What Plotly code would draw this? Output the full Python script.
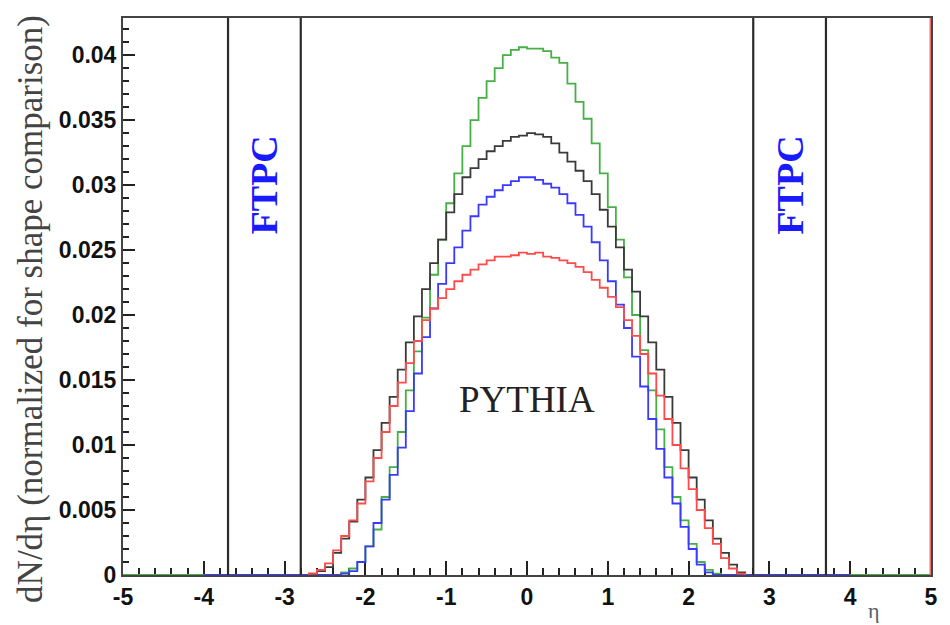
import numpy as np
import plotly.graph_objects as go

# ---- data -------------------------------------------------------------
ETA_MIN = -2.7          # low edge of first listed bin
BIN_W = 0.1             # bin width in eta
# bins from -2.7 to 2.7 (54 bins)
green_vals = [0, 0, 0, 0, 0.0002, 0.0005, 0.0010, 0.0022, 0.0035, 0.0060, 0.0083, 0.0110, 0.0142,
              0.0172, 0.0198, 0.0231, 0.0258, 0.0286, 0.0309, 0.0330, 0.0350, 0.0367, 0.0380,
              0.0390, 0.0400, 0.0404, 0.0406,
              0.0405, 0.0405, 0.0403, 0.0398, 0.0394, 0.0378, 0.0364, 0.0351, 0.0332, 0.0309,
              0.0283, 0.0258, 0.0229, 0.0200, 0.0173, 0.0142, 0.0112, 0.0083, 0.0060, 0.0042,
              0.0024, 0.0010, 0.0004, 0.0001, 0, 0, 0]
black_vals = [0.0001, 0.0003, 0.0006, 0.0017, 0.0028, 0.0041, 0.0058, 0.0075, 0.0096, 0.0117,
              0.0137, 0.0158, 0.0179, 0.0199, 0.0220, 0.0240, 0.0258, 0.0279, 0.0293, 0.0306,
              0.0313, 0.0320, 0.0326, 0.0330, 0.0334, 0.0337, 0.0338,
              0.0340, 0.0339, 0.0337, 0.0332, 0.0325, 0.0318, 0.0311, 0.0303, 0.0293, 0.0281,
              0.0268, 0.0252, 0.0235, 0.0218, 0.0199, 0.0179, 0.0158, 0.0137, 0.0117, 0.0096,
              0.0075, 0.0058, 0.0042, 0.0028, 0.0017, 0.0008, 0.0002]
blue_vals = [0, 0, 0, 0, 0.0001, 0.0003, 0.0010, 0.0022, 0.0040, 0.0058, 0.0077, 0.0098, 0.0126,
             0.0155, 0.0183, 0.0205, 0.0224, 0.0240, 0.0252, 0.0265, 0.0276, 0.0285, 0.0291,
             0.0296, 0.0300, 0.0303, 0.0306,
             0.0306, 0.0304, 0.0301, 0.0298, 0.0293, 0.0286, 0.0277, 0.0268, 0.0256, 0.0242,
             0.0226, 0.0208, 0.0190, 0.0168, 0.0145, 0.0120, 0.0097, 0.0075, 0.0055, 0.0037,
             0.0020, 0.0008, 0.0002, 0, 0, 0, 0]
red_vals = [0.0001, 0.0004, 0.0009, 0.0019, 0.0030, 0.0042, 0.0055, 0.0072, 0.0090, 0.0110,
            0.0130, 0.0148, 0.0163, 0.0180, 0.0196, 0.0205, 0.0213, 0.0220, 0.0226, 0.0231,
            0.0235, 0.0239, 0.0242, 0.0245, 0.0245, 0.0246, 0.0248,
            0.0247, 0.0248, 0.0245, 0.0244, 0.0242, 0.0240, 0.0237, 0.0233, 0.0227, 0.0221,
            0.0214, 0.0206, 0.0196, 0.0184, 0.0170, 0.0155, 0.0138, 0.0120, 0.0100, 0.0082,
            0.0066, 0.0050, 0.0036, 0.0024, 0.0013, 0.0005, 0.0001]

x_ticks = [-5, -4, -3, -2, -1, 0, 1, 2, 3, 4, 5]
x_tick_labels = ["-5", "-4", "-3", "-2", "-1", "0", "1", "2", "3", "4", "5"]
y_ticks = [0, 0.005, 0.01, 0.015, 0.02, 0.025, 0.03, 0.035, 0.04]
y_tick_labels = ["0", "0.005", "0.01", "0.015", "0.02", "0.025", "0.03", "0.035", "0.04"]
ftpc_lines = [-3.7, -2.8, 2.8, 3.7]
ftpc_label_x = [-3.25, 3.25]
ftpc_label_y = 0.0300
pythia_xy = (0.0, 0.0135)
X_RANGE = [-5, 5]
Y_RANGE = [0, 0.04285]

# ---- figure -----------------------------------------------------------
def step_trace(vals, lo, hi, color, width=1.8):
    n = len(vals)
    edges = list(np.round(ETA_MIN + BIN_W * np.arange(n + 1), 3))
    xs = [lo] + edges + [hi]
    ys = [0] + list(vals) + [0, 0]
    return go.Scatter(x=xs, y=ys, mode="lines", line_shape="hv",
                      line=dict(color=color, width=width), hoverinfo="skip",
                      showlegend=False)

fig = go.Figure()
fig.add_trace(step_trace(green_vals, -5, 5, "#46b046"))
fig.add_trace(step_trace(blue_vals, -4, 4, "#3a3aff"))
fig.add_trace(step_trace(black_vals, ETA_MIN, -ETA_MIN, "#3a3a3a"))
fig.add_trace(step_trace(red_vals, ETA_MIN, -ETA_MIN, "#ff4a4a"))

for xv in ftpc_lines:
    fig.add_shape(type="line", x0=xv, x1=xv, y0=0, y1=1, xref="x", yref="paper",
                  line=dict(color="#2a2a2a", width=2.2))
fig.add_shape(type="line", x0=X_RANGE[1], x1=X_RANGE[1], y0=0, y1=1, xref="x", yref="paper",
              line=dict(color="#f07070", width=3))

for xv in ftpc_label_x:
    fig.add_annotation(x=xv, y=ftpc_label_y, text="<b>FTPC</b>", showarrow=False,
                       textangle=-90, xanchor="center", yanchor="middle",
                       font=dict(family="Liberation Serif", size=38, color="#1a1aff"))
fig.add_annotation(x=pythia_xy[0], y=pythia_xy[1], text="PYTHIA", showarrow=False,
                   xanchor="center", yanchor="middle",
                   font=dict(family="Liberation Serif", size=37, color="#222222"))
fig.add_annotation(xref="paper", yref="paper", x=-0.1144, y=0.477,
                   text="dN/dη (normalized for shape comparison)", showarrow=False,
                   textangle=-90, xanchor="center", yanchor="middle",
                   font=dict(family="Liberation Serif", size=35, color="#444444"))
fig.add_annotation(xref="paper", yref="paper", x=0.929, y=-0.063, text="η", showarrow=False,
                   xanchor="center", yanchor="middle",
                   font=dict(family="Liberation Serif", size=22, color="#556070"))

fig.update_layout(
    width=950, height=625, margin=dict(l=123, r=14, t=18, b=50),
    paper_bgcolor="white", plot_bgcolor="white", showlegend=False,
    xaxis=dict(range=X_RANGE, tickvals=x_ticks, ticktext=x_tick_labels,
               ticks="inside", ticklen=14, tickwidth=2, tickcolor="#222",
               minor=dict(dtick=0.2, tick0=0, ticks="inside", ticklen=7, tickwidth=2, tickcolor="#222"),
               showgrid=False, zeroline=False, showline=True, linecolor="#444", linewidth=2,
               mirror=True, layer="below traces",
               tickfont=dict(family="Liberation Sans", size=23, color="#111", weight="bold")),
    yaxis=dict(range=Y_RANGE, tickvals=y_ticks, ticktext=y_tick_labels,
               ticks="inside", ticklen=12, tickwidth=2, tickcolor="#222",
               minor=dict(dtick=0.001, tick0=0, ticks="inside", ticklen=6, tickwidth=1.5, tickcolor="#222"),
               showgrid=False, zeroline=False, showline=True, linecolor="#444", linewidth=2,
               mirror=True, layer="below traces",
               tickfont=dict(family="Liberation Sans", size=23, color="#111", weight="bold")),
)

fig.write_html("out.html")
